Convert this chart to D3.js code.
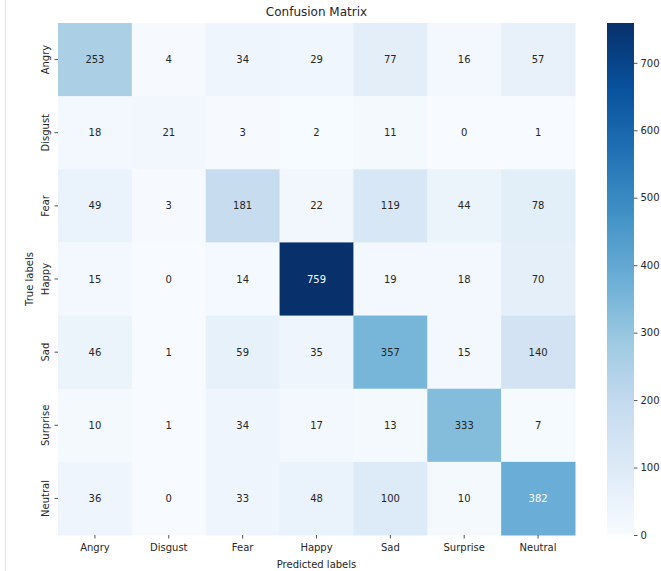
<!DOCTYPE html>
<html>
<head>
<meta charset="utf-8">
<script src="https://cdn.jsdelivr.net/npm/d3@7"></script>
<style>
  body { margin: 0; background: #fff; }
  text { font-family: "DejaVu Sans", sans-serif; fill: #262626; }
</style>
</head>
<body>
<div id="viz_container"></div>
<script>
// data
const labels = ["Angry", "Disgust", "Fear", "Happy", "Sad", "Surprise", "Neutral"];
const rowAngry    = [253, 4, 34, 29, 77, 16, 57];
const rowDisgust  = [18, 21, 3, 2, 11, 0, 1];
const rowFear     = [49, 3, 181, 22, 119, 44, 78];
const rowHappy    = [15, 0, 14, 759, 19, 18, 70];
const rowSad      = [46, 1, 59, 35, 357, 15, 140];
const rowSurprise = [10, 1, 34, 17, 13, 333, 7];
const rowNeutral  = [36, 0, 33, 48, 100, 10, 382];
const matrix = [rowAngry, rowDisgust, rowFear, rowHappy, rowSad, rowSurprise, rowNeutral];
const cbTicks = [0, 100, 200, 300, 400, 500, 600, 700];

// dimensions
const W = 661, H = 571;
const plot = {x0: 58, x1: 575, y0: 23, y1: 535};
const cbar = {x0: 607, x1: 634};

const svg = d3.select("#viz_container")
  .append("svg")
    .attr("width", W)
    .attr("height", H);

// notebook frame line on the left
svg.append("line")
  .attr("x1", 5.5).attr("x2", 5.5)
  .attr("y1", 0).attr("y2", H)
  .attr("stroke", "#e6e6e6");

// scales
const xScale = d3.scaleBand().domain(labels).range([plot.x0, plot.x1]);
const yScale = d3.scaleBand().domain(labels).range([plot.y0, plot.y1]);

const vmax = d3.max(matrix.flat());
const blues = ["#f7fbff", "#deebf7", "#c6dbef", "#9ecae1", "#6baed6", "#4292c6", "#2171b5", "#08519c", "#08306b"];
const color = d3.scaleLinear()
  .domain(d3.range(blues.length).map(i => i / (blues.length - 1) * vmax))
  .range(blues)
  .interpolate(d3.interpolateRgb);

const cells = [];
matrix.forEach((row, i) => row.forEach((v, j) => cells.push({r: labels[i], c: labels[j], v: v})));

// cells
svg.append("g")
  .selectAll("rect")
  .data(cells)
  .join("rect")
    .attr("x", d => xScale(d.c))
    .attr("y", d => yScale(d.r))
    .attr("width", xScale.bandwidth() + 0.5)
    .attr("height", yScale.bandwidth() + 0.5)
    .attr("fill", d => color(d.v));

// luminance check like seaborn for annotation colour
function lum(c) {
  const rgb = d3.rgb(c);
  const f = x => { x /= 255; return x <= 0.03928 ? x / 12.92 : Math.pow((x + 0.055) / 1.055, 2.4); };
  return 0.2126 * f(rgb.r) + 0.7152 * f(rgb.g) + 0.0722 * f(rgb.b);
}

svg.append("g")
  .selectAll("text")
  .data(cells)
  .join("text")
    .attr("x", d => xScale(d.c) + xScale.bandwidth() / 2)
    .attr("y", d => yScale(d.r) + yScale.bandwidth() / 2)
    .attr("text-anchor", "middle")
    .attr("dominant-baseline", "central")
    .style("font-size", "10px")
    .style("fill", d => lum(color(d.v)) > 0.408 ? "#262626" : "#ffffff")
    .text(d => d.v);

// x axis
svg.append("g")
  .attr("transform", `translate(0, ${plot.y1})`)
  .call(d3.axisBottom(xScale).tickSize(3.5).tickPadding(5))
  .call(g => g.select(".domain").remove())
  .call(g => g.selectAll("line").attr("stroke", "#262626").attr("stroke-width", 0.8))
  .call(g => g.selectAll("text").style("font-size", "10px").style("font-family", "DejaVu Sans, sans-serif"));

// y axis
const yAxis = svg.append("g")
  .attr("transform", `translate(${plot.x0}, 0)`)
  .call(d3.axisLeft(yScale).tickSize(3.5).tickPadding(5))
  .call(g => g.select(".domain").remove())
  .call(g => g.selectAll("line").attr("stroke", "#262626").attr("stroke-width", 0.8));
yAxis.selectAll("text")
  .attr("text-anchor", "middle")
  .attr("x", 0).attr("y", 0).attr("dy", 0)
  .attr("dominant-baseline", "auto")
  .attr("transform", "translate(-9,0) rotate(-90)")
  .style("font-size", "10px")
  .style("font-family", "DejaVu Sans, sans-serif");

// title and axis labels
svg.append("text")
  .attr("x", (plot.x0 + plot.x1) / 2)
  .attr("y", 16)
  .attr("text-anchor", "middle")
  .style("font-size", "12px")
  .text("Confusion Matrix");

svg.append("text")
  .attr("x", (plot.x0 + plot.x1) / 2)
  .attr("y", 568)
  .attr("text-anchor", "middle")
  .style("font-size", "10px")
  .text("Predicted labels");

svg.append("text")
  .attr("transform", `translate(33, ${(plot.y0 + plot.y1) / 2}) rotate(-90)`)
  .attr("text-anchor", "middle")
  .style("font-size", "10px")
  .text("True labels");

// colorbar
const cbScale = d3.scaleLinear().domain([0, vmax]).range([plot.y1, plot.y0]);
const defs = svg.append("defs");
const grad = defs.append("linearGradient")
  .attr("id", "cbgrad")
  .attr("x1", 0).attr("x2", 0).attr("y1", 1).attr("y2", 0);
grad.selectAll("stop")
  .data(blues)
  .join("stop")
    .attr("offset", (d, i) => i / (blues.length - 1))
    .attr("stop-color", d => d);

svg.append("rect")
  .attr("x", cbar.x0)
  .attr("y", plot.y0)
  .attr("width", cbar.x1 - cbar.x0)
  .attr("height", plot.y1 - plot.y0)
  .attr("fill", "url(#cbgrad)");

svg.append("g")
  .attr("transform", `translate(${cbar.x1}, 0)`)
  .call(d3.axisRight(cbScale).tickValues(cbTicks).tickSize(3.5).tickPadding(3))
  .call(g => g.select(".domain").remove())
  .call(g => g.selectAll("line").attr("stroke", "#262626").attr("stroke-width", 0.8))
  .call(g => g.selectAll("text").style("font-size", "10px").style("font-family", "DejaVu Sans, sans-serif"));
</script>
</body>
</html>
